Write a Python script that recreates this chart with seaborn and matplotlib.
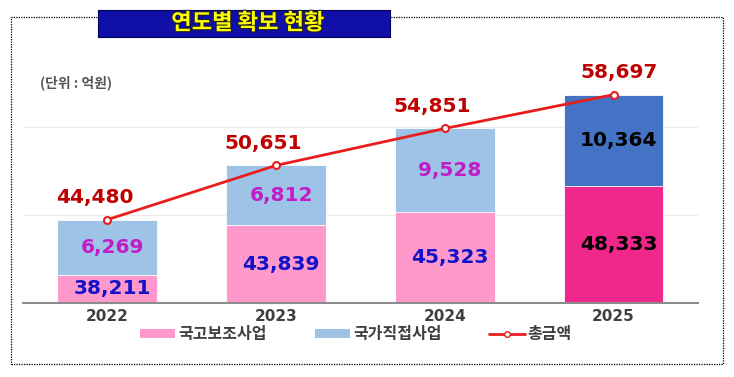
"""Yearly secured budget: stacked bars with total line."""

import matplotlib
matplotlib.use("Agg")
import matplotlib.pyplot as plt
import matplotlib.patheffects as pe
import numpy as np
import seaborn as sns
from matplotlib.lines import Line2D
from matplotlib.patches import Patch, Rectangle

years = ["2022", "2023", "2024", "2025"]
subsidy = [38211, 43839, 45323, 48333]      # 국고보조사업
direct = [6269, 6812, 9528, 10364]          # 국가직접사업
totals = [44480, 50651, 54851, 58697]       # 총금액

legend_labels = ["국고보조사업", "국가직접사업", "총금액"]
title_text = "연도별 확보 현황"
unit_text = "(단위 : 억원)"

PINK = ["#FF99CC", "#FF99CC", "#FF99CC", "#F0288C"]
BLUE = ["#9DC3E6", "#9DC3E6", "#9DC3E6", "#4472C4"]
PINK_TXT = ["#1212C8", "#1212C8", "#1212C8", "#000000"]
BLUE_TXT = ["#C21CC8", "#C21CC8", "#C21CC8", "#000000"]
LINE_RED = "#E81E1E"
TOTAL_TXT = "#C00000"

sns.set_style("white")
plt.rcParams["font.family"] = ["Noto Sans CJK KR", "DejaVu Sans"]

fig = plt.figure(figsize=(7.34, 3.77), dpi=100)
ax = fig.add_axes([0.031, 0.196, 0.92, 0.7])

stack_top = np.array(subsidy) + np.array(direct)
sns.barplot(x=years, y=stack_top, hue=years, palette=BLUE, width=0.59,
            legend=False, ax=ax, saturation=1, edgecolor="white", linewidth=0.6)
sns.barplot(x=years, y=subsidy, hue=years, palette=PINK, width=0.59,
            legend=False, ax=ax, saturation=1, edgecolor="white", linewidth=0.6)
sns.lineplot(x=np.arange(len(years)), y=totals, ax=ax, color=LINE_RED, lw=2,
             marker="o", markersize=5, markerfacecolor="white",
             markeredgecolor=LINE_RED, markeredgewidth=1.5, zorder=5)

ymin, ymax = 35000, 65000
ax.set_ylim(ymin, ymax)
ax.set_xlim(-0.5, len(years) - 0.5)
ax.set_yticks([45000, 55000])
ax.set_yticklabels([])
ax.tick_params(axis="y", length=0)
ax.tick_params(axis="x", length=0, pad=4)
ax.grid(axis="y", color="#EAEAEA", lw=0.8)
ax.set_axisbelow(True)
for side in ["top", "right", "left"]:
    ax.spines[side].set_visible(False)
ax.spines["bottom"].set_color("#8C8C8C")
ax.spines["bottom"].set_linewidth(1.5)
for lbl in ax.get_xticklabels():
    lbl.set_fontsize(11)
    lbl.set_fontweight("bold")
    lbl.set_color("#404040")
    lbl.set_family("DejaVu Sans")

num_font = dict(family="DejaVu Sans", fontweight="bold", fontsize=14.5,
                ha="center", va="center")
for i in range(len(years)):
    ax.text(i + 0.03, (ymin + subsidy[i]) / 2, f"{subsidy[i]:,}",
            color=PINK_TXT[i], **num_font)
    ax.text(i + 0.03, subsidy[i] + direct[i] / 2, f"{direct[i]:,}",
            color=BLUE_TXT[i], **num_font)
    ax.annotate(f"{totals[i]:,}", (i, totals[i]), xytext=(-9 if i < 3 else 4, 16),
                textcoords="offset points", color=TOTAL_TXT, clip_on=False, **num_font)

# frame and title box
fig.add_artist(Rectangle((11 / 734, 1 - 364 / 377), 712 / 734, 347 / 377,
                         transform=fig.transFigure, fill=False, ls=(0, (1, 1)),
                         lw=0.9, ec="black"))
fig.add_artist(Rectangle((98 / 734, 1 - 37 / 377), 292 / 734, 27 / 377,
                         transform=fig.transFigure, fc="#1010A8", ec="#000060",
                         lw=0.8, zorder=3))
fig.text(248 / 734, 1 - 23 / 377, title_text, ha="center", va="center",
         fontsize=16, fontweight="bold", color="#FFFF00", zorder=4,
         path_effects=[pe.withStroke(linewidth=1.5, foreground="#202020")])
fig.text(40 / 734, 1 - 83 / 377, unit_text, ha="left", va="center",
         fontsize=10, fontweight="bold", color="#555555")

handles = [
    Patch(facecolor=PINK[0], edgecolor="none"),
    Patch(facecolor=BLUE[0], edgecolor="none"),
    Line2D([], [], color=LINE_RED, lw=2, marker="o", markersize=4,
           markerfacecolor="white", markeredgecolor=LINE_RED),
]
fig.legend(handles, legend_labels, loc="center", bbox_to_anchor=(0.485, 1 - 334 / 377),
           ncol=3, frameon=False, handlelength=2.2, handleheight=0.45,
           handletextpad=0.2, columnspacing=3.0, labelcolor="#404040",
           prop=dict(family=["Noto Sans CJK KR"], weight="bold", size=11.5))

fig.savefig("out.png", dpi=100, facecolor="white")
